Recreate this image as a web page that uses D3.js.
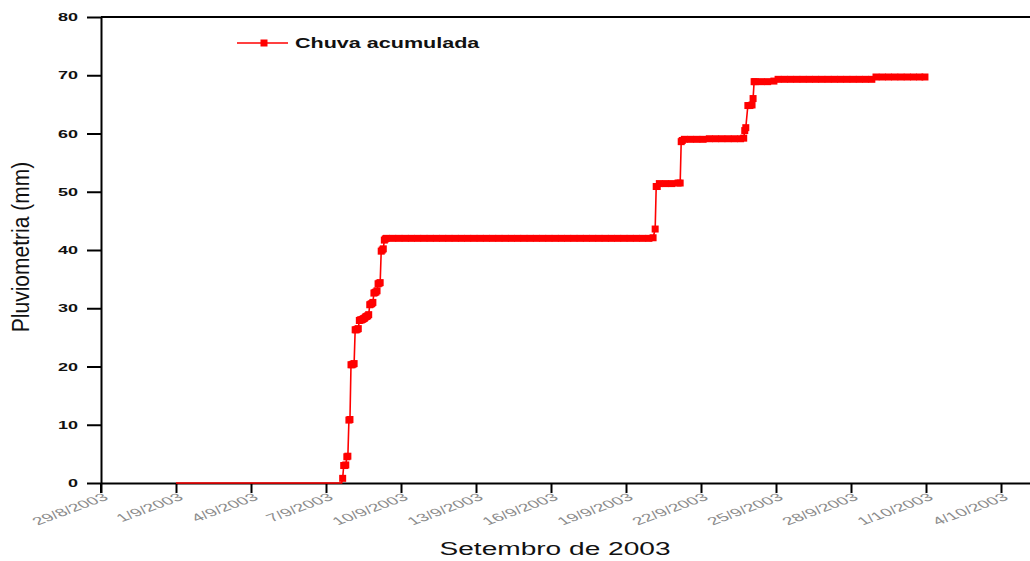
<!DOCTYPE html>
<html>
<head>
<meta charset="utf-8">
<script src="https://cdn.jsdelivr.net/npm/d3@7"></script>
<style>
  body { margin: 0; background: #fff; }
  svg { display: block; font-family: "Liberation Sans", Arial, sans-serif; }
</style>
</head>
<body>
<svg id="chart" width="1030" height="561"></svg>
<script>
// hourly readings, hours counted from 1/9/2003 00:00
const startDay = Date.UTC(2003, 8, 1);

const readingHours = [
  0, 159, 160, 161, 162, 163, 164, 165, 166, 167,
  168, 169, 170, 171, 172, 173, 174, 175, 176, 177,
  178, 179, 180, 181, 182, 183, 184, 185, 186, 187,
  188, 189, 190, 191, 192, 193, 194, 195, 196, 197,
  198, 199, 200, 201, 202,
  208, 214, 220, 226, 232, 238, 244, 250, 256, 262, 268, 274, 280, 286,
  292, 298, 304, 310, 316, 322, 328, 334, 340, 346, 352, 358, 364, 370,
  376, 382, 388, 394, 400, 406, 412, 418, 424, 430, 436, 442, 448, 454,
  458, 460, 461, 462, 464, 470, 476, 482, 484, 485, 486, 488,
  494, 500, 506, 512, 518, 524, 530, 536, 542,
  545, 546, 547, 549, 551, 553, 554, 555, 556, 562, 568, 574,
  578, 584, 590, 596, 602, 608, 614, 620, 626, 632, 638, 644, 650, 656, 662, 668,
  672, 678, 684, 690, 696, 702, 708, 714, 719
];

const chuvaAcumulada = [
  0, 0, 0.8, 3.0, 3.0, 3.1, 4.5, 4.6, 10.8, 10.9,
  20.3, 20.3, 20.4, 20.5, 26.3, 26.3, 26.4, 26.5, 27.9, 28.0,
  28.0, 28.1, 28.2, 28.3, 28.5, 28.6, 28.7, 28.9, 30.6, 30.7,
  30.8, 31.0, 32.6, 32.7, 32.8, 33.0, 34.2, 34.3, 34.4, 39.8,
  40.0, 40.2, 41.7, 41.9, 42.0,
  42.0, 42.0, 42.0, 42.0, 42.0, 42.0, 42.0, 42.0, 42.0, 42.0, 42.0, 42.0, 42.0, 42.0,
  42.0, 42.0, 42.0, 42.0, 42.0, 42.0, 42.0, 42.0, 42.0, 42.0, 42.0, 42.0, 42.0, 42.0,
  42.0, 42.0, 42.0, 42.0, 42.0, 42.0, 42.0, 42.0, 42.0, 42.0, 42.0, 42.0, 42.0, 42.0,
  42.1, 43.6, 50.9, 50.9, 51.4, 51.4, 51.4, 51.5, 51.5, 58.6, 58.8, 59.0,
  59.0, 59.0, 59.0, 59.1, 59.1, 59.1, 59.1, 59.1, 59.1,
  59.2, 60.5, 61.0, 64.8, 64.8, 64.9, 66.0, 68.9, 68.9, 68.9, 68.9, 69.0,
  69.3, 69.3, 69.3, 69.3, 69.3, 69.3, 69.3, 69.3, 69.3, 69.3, 69.3, 69.3, 69.3, 69.3, 69.3, 69.3,
  69.7, 69.7, 69.7, 69.7, 69.7, 69.7, 69.7, 69.7, 69.7
];

const xTickLabels = ["29/8/2003", "1/9/2003", "4/9/2003", "7/9/2003", "10/9/2003", "13/9/2003",
  "16/9/2003", "19/9/2003", "22/9/2003", "25/9/2003", "28/9/2003", "1/10/2003", "4/10/2003"];
const yTicks = [0, 10, 20, 30, 40, 50, 60, 70, 80];
const seriesName = "Chuva acumulada";

const data = readingHours.map((h, i) => ({
  t: new Date(startDay + h * 3600000),
  v: chuvaAcumulada[i]
}));

const svg = d3.select("#chart");
const plotLeft = 101, plotTop = 17, plotBottom = 483;

const x = d3.scaleUtc()
  .domain([new Date(Date.UTC(2003, 7, 29)), new Date(Date.UTC(2003, 9, 6))])
  .range([plotLeft, 1051]);
const y = d3.scaleLinear().domain([0, 80]).range([plotBottom, plotTop]);

const majorDates = xTickLabels.map((s, i) => new Date(Date.UTC(2003, 7, 29 + 3 * i)));
const minorDates = d3.range(0, 26).map(i => new Date(Date.UTC(2003, 7, 29) + i * 36 * 3600000));

// top frame line
svg.append("line")
  .attr("x1", plotLeft).attr("x2", 1051)
  .attr("y1", plotTop).attr("y2", plotTop)
  .attr("stroke", "#000").attr("stroke-width", 2);

// x axis
const gx = svg.append("g").attr("transform", `translate(0,${plotBottom})`);
gx.call(d3.axisBottom(x).tickValues(minorDates).tickSize(5).tickFormat("").tickSizeOuter(0));
gx.call(d3.axisBottom(x).tickValues(majorDates).tickSize(10).tickSizeOuter(0)
  .tickFormat((d, i) => xTickLabels[i]));
gx.selectAll("path.domain").attr("stroke-width", 2);
gx.selectAll(".tick line").attr("stroke-width", 2);
gx.selectAll(".tick text")
  .attr("x", 0).attr("y", 0).attr("dy", 0)
  .attr("text-anchor", "end")
  .attr("transform", "translate(8,16) scale(1.75,1) rotate(-33)")
  .attr("fill", "#8c8c8c")
  .style("font-size", "11px");

// y axis
const gy = svg.append("g").attr("transform", `translate(${plotLeft},0)`);
gy.call(d3.axisLeft(y).tickValues(d3.range(5, 80, 10)).tickSize(6).tickFormat("").tickSizeOuter(0));
gy.call(d3.axisLeft(y).tickValues(yTicks).tickSize(14).tickSizeOuter(0));
gy.selectAll("path.domain").attr("stroke-width", 2);
gy.selectAll(".tick line").attr("stroke-width", 2);
gy.selectAll(".tick text")
  .attr("x", 0).attr("dy", "0.36em")
  .attr("transform", "translate(-23,0) scale(1.8,1)")
  .attr("fill", "#111")
  .style("font-size", "10px")
  .style("font-weight", "bold");
// extend y axis down to the x tick length
gy.append("line").attr("y1", plotBottom).attr("y2", plotBottom + 10)
  .attr("stroke", "#000").attr("stroke-width", 2);

// series
const line = d3.line().x(d => x(d.t)).y(d => y(d.v));
svg.append("path")
  .datum(data)
  .attr("fill", "none")
  .attr("stroke", "#ff0000")
  .attr("stroke-width", 1.6)
  .attr("d", line);

const ms = 7;
svg.append("g").selectAll("rect")
  .data(data.filter(d => d.v > 0))
  .join("rect")
  .attr("x", d => x(d.t) - ms / 2)
  .attr("y", d => y(d.v) - ms / 2)
  .attr("width", ms).attr("height", ms)
  .attr("fill", "#ff0000");

// legend
const lg = svg.append("g");
lg.append("line").attr("x1", 237).attr("x2", 288).attr("y1", 43).attr("y2", 43)
  .attr("stroke", "#ff0000").attr("stroke-width", 1.6);
lg.append("rect").attr("x", 264 - ms / 2).attr("y", 43 - ms / 2)
  .attr("width", ms).attr("height", ms).attr("fill", "#ff0000");
lg.append("text")
  .attr("transform", "translate(295,48) scale(1.54,1)")
  .style("font-size", "14px").style("font-weight", "bold")
  .attr("fill", "#111")
  .text(seriesName);

// axis titles
svg.append("text")
  .attr("transform", "translate(555,555) scale(1.56,1)")
  .attr("text-anchor", "middle")
  .style("font-size", "18px")
  .attr("fill", "#111")
  .text("Setembro de 2003");

svg.append("text")
  .attr("transform", "translate(29,247) scale(1.1,1) rotate(-90)")
  .attr("text-anchor", "middle")
  .style("font-size", "21px")
  .attr("fill", "#111")
  .text("Pluviometria (mm)");
</script>
</body>
</html>
